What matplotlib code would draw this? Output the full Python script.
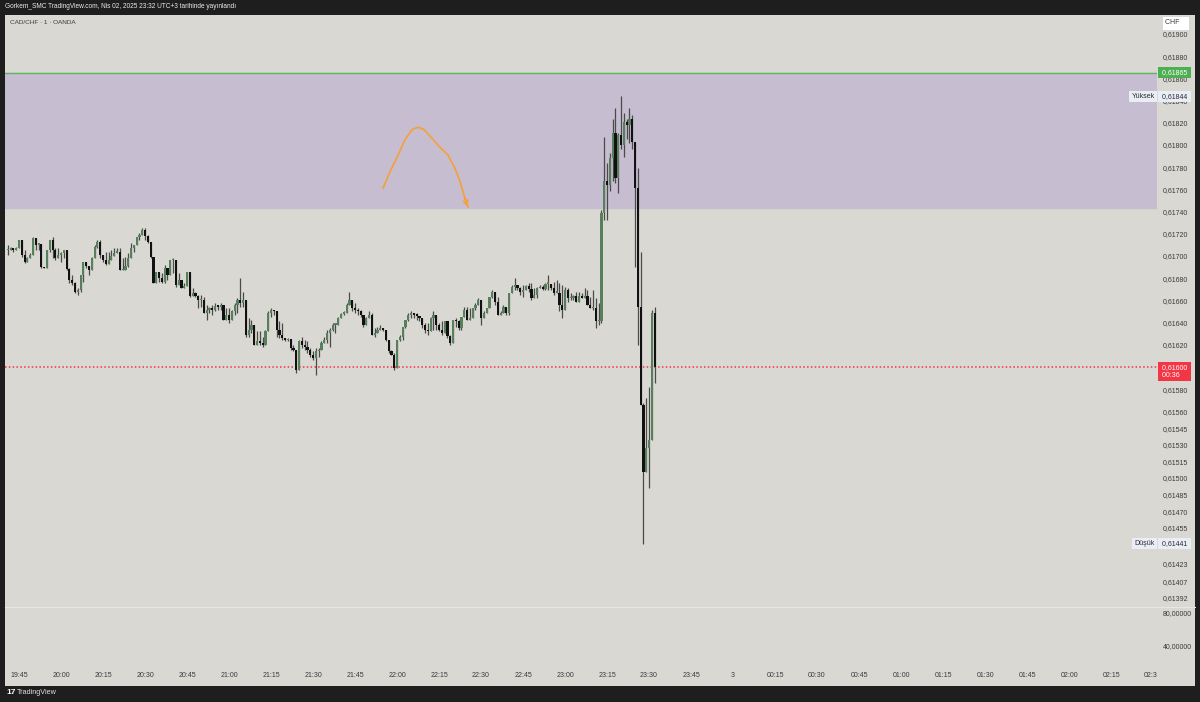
import matplotlib.pyplot as plt
from matplotlib.patches import Rectangle

plt.rcParams['font.family'] = ['Liberation Sans', 'DejaVu Sans']

# CAD/CHF 1 dakikalik mumlar, ilk mum 19:41 (dakika olarak 19:00'dan itibaren)
start_minute = 41
first_open = 0.61705

close = [
    0.61705, 0.61707, 0.61705, 0.61707, 0.61714, 0.61701, 0.61695, 0.61698, 0.61701, 0.61716,
    0.61710, 0.61711, 0.61690, 0.61689, 0.61705, 0.61714, 0.61705, 0.61698, 0.61701, 0.61703,
    0.61705, 0.61688, 0.61678, 0.61676, 0.61668, 0.61669, 0.61683, 0.61695, 0.61691, 0.61687,
    0.61698, 0.61708, 0.61713, 0.61701, 0.61696, 0.61693, 0.61696, 0.61700, 0.61703, 0.61704,
    0.61687, 0.61687, 0.61691, 0.61698, 0.61707, 0.61710, 0.61717, 0.61719, 0.61723, 0.61718,
    0.61713, 0.61699, 0.61676, 0.61686, 0.61680, 0.61677, 0.61689, 0.61683, 0.61696, 0.61696,
    0.61674, 0.61678, 0.61671, 0.61673, 0.61686, 0.61664, 0.61667, 0.61664, 0.61660, 0.61660,
    0.61649, 0.61651, 0.61653, 0.61651, 0.61655, 0.61654, 0.61656, 0.61642, 0.61647, 0.61642,
    0.61650, 0.61656, 0.61660, 0.61658, 0.61660, 0.61629, 0.61633, 0.61638, 0.61620, 0.61623,
    0.61622, 0.61620, 0.61632, 0.61649, 0.61651, 0.61650, 0.61633, 0.61629, 0.61626, 0.61624,
    0.61625, 0.61617, 0.61615, 0.61597, 0.61623, 0.61620, 0.61618, 0.61615, 0.61611, 0.61608,
    0.61614, 0.61615, 0.61622, 0.61624, 0.61631, 0.61633, 0.61638, 0.61638, 0.61644, 0.61648,
    0.61649, 0.61656, 0.61660, 0.61653, 0.61651, 0.61650, 0.61647, 0.61638, 0.61644, 0.61647,
    0.61629, 0.61631, 0.61633, 0.61635, 0.61633, 0.61624, 0.61614, 0.61611, 0.61599, 0.61624,
    0.61627, 0.61636, 0.61642, 0.61647, 0.61649, 0.61647, 0.61646, 0.61644, 0.61638, 0.61633,
    0.61632, 0.61644, 0.61647, 0.61638, 0.61633, 0.61631, 0.61641, 0.61628, 0.61622, 0.61642,
    0.61641, 0.61635, 0.61645, 0.61651, 0.61642, 0.61644, 0.61653, 0.61656, 0.61660, 0.61644,
    0.61649, 0.61653, 0.61663, 0.61668, 0.61659, 0.61647, 0.61649, 0.61654, 0.61649, 0.61667,
    0.61672, 0.61674, 0.61671, 0.61668, 0.61669, 0.61673, 0.61670, 0.61662, 0.61665, 0.61671,
    0.61672, 0.61670, 0.61675, 0.61675, 0.61671, 0.61667, 0.61667, 0.61656, 0.61651, 0.61669,
    0.61662, 0.61662, 0.61664, 0.61659, 0.61664, 0.61662, 0.61664, 0.61656, 0.61653, 0.61653,
    0.61641, 0.61641, 0.61739, 0.61768, 0.61764, 0.61788, 0.61811, 0.61770, 0.61809, 0.61800,
    0.61821, 0.61818, 0.61823, 0.61803, 0.61761, 0.61654, 0.61566, 0.61505, 0.61527, 0.61534,
    0.61649, 0.61600,
]

high = [
    0.61710, 0.61708, 0.61707, 0.61708, 0.61714, 0.61710, 0.61705, 0.61699, 0.61703, 0.61717,
    0.61712, 0.61712, 0.61705, 0.61690, 0.61705, 0.61714, 0.61717, 0.61707, 0.61707, 0.61704,
    0.61705, 0.61701, 0.61689, 0.61683, 0.61677, 0.61671, 0.61683, 0.61695, 0.61694, 0.61689,
    0.61699, 0.61710, 0.61714, 0.61714, 0.61701, 0.61704, 0.61704, 0.61705, 0.61707, 0.61707,
    0.61707, 0.61698, 0.61699, 0.61703, 0.61712, 0.61710, 0.61717, 0.61721, 0.61725, 0.61725,
    0.61719, 0.61712, 0.61698, 0.61686, 0.61685, 0.61685, 0.61692, 0.61686, 0.61696, 0.61698,
    0.61689, 0.61685, 0.61677, 0.61676, 0.61686, 0.61677, 0.61671, 0.61668, 0.61665, 0.61665,
    0.61663, 0.61656, 0.61654, 0.61656, 0.61658, 0.61656, 0.61658, 0.61654, 0.61653, 0.61653,
    0.61651, 0.61658, 0.61662, 0.61680, 0.61668, 0.61653, 0.61644, 0.61642, 0.61638, 0.61632,
    0.61632, 0.61627, 0.61633, 0.61650, 0.61653, 0.61651, 0.61647, 0.61641, 0.61640, 0.61624,
    0.61626, 0.61624, 0.61620, 0.61611, 0.61624, 0.61627, 0.61624, 0.61623, 0.61617, 0.61614,
    0.61617, 0.61617, 0.61623, 0.61627, 0.61633, 0.61635, 0.61640, 0.61640, 0.61645, 0.61649,
    0.61650, 0.61658, 0.61668, 0.61660, 0.61658, 0.61653, 0.61651, 0.61645, 0.61645, 0.61650,
    0.61649, 0.61635, 0.61636, 0.61638, 0.61635, 0.61633, 0.61620, 0.61615, 0.61613, 0.61624,
    0.61629, 0.61636, 0.61642, 0.61649, 0.61650, 0.61649, 0.61649, 0.61645, 0.61641, 0.61640,
    0.61640, 0.61645, 0.61650, 0.61647, 0.61640, 0.61641, 0.61641, 0.61635, 0.61629, 0.61642,
    0.61644, 0.61642, 0.61645, 0.61654, 0.61654, 0.61653, 0.61653, 0.61658, 0.61662, 0.61659,
    0.61650, 0.61653, 0.61663, 0.61669, 0.61665, 0.61663, 0.61650, 0.61656, 0.61654, 0.61667,
    0.61674, 0.61680, 0.61674, 0.61672, 0.61674, 0.61674, 0.61676, 0.61676, 0.61671, 0.61672,
    0.61674, 0.61674, 0.61676, 0.61683, 0.61674, 0.61677, 0.61678, 0.61676, 0.61674, 0.61672,
    0.61671, 0.61667, 0.61665, 0.61668, 0.61668, 0.61667, 0.61671, 0.61669, 0.61663, 0.61669,
    0.61662, 0.61658, 0.61741, 0.61807, 0.61784, 0.61793, 0.61823, 0.61833, 0.61811, 0.61844,
    0.61829, 0.61823, 0.61833, 0.61827, 0.61803, 0.61779, 0.61704, 0.61568, 0.61572, 0.61582,
    0.61651, 0.61654,
]

low = [
    0.61701, 0.61705, 0.61704, 0.61705, 0.61713, 0.61699, 0.61694, 0.61696, 0.61698, 0.61704,
    0.61705, 0.61705, 0.61689, 0.61689, 0.61689, 0.61704, 0.61698, 0.61696, 0.61699, 0.61695,
    0.61698, 0.61687, 0.61676, 0.61674, 0.61667, 0.61665, 0.61668, 0.61677, 0.61689, 0.61683,
    0.61689, 0.61698, 0.61707, 0.61698, 0.61695, 0.61692, 0.61695, 0.61698, 0.61701, 0.61703,
    0.61687, 0.61687, 0.61687, 0.61690, 0.61699, 0.61704, 0.61710, 0.61714, 0.61719, 0.61714,
    0.61712, 0.61698, 0.61676, 0.61676, 0.61677, 0.61676, 0.61676, 0.61678, 0.61683, 0.61685,
    0.61672, 0.61676, 0.61671, 0.61671, 0.61674, 0.61663, 0.61665, 0.61663, 0.61653, 0.61654,
    0.61649, 0.61642, 0.61649, 0.61647, 0.61650, 0.61651, 0.61651, 0.61642, 0.61642, 0.61640,
    0.61645, 0.61647, 0.61649, 0.61654, 0.61654, 0.61627, 0.61627, 0.61631, 0.61620, 0.61620,
    0.61620, 0.61618, 0.61623, 0.61635, 0.61645, 0.61647, 0.61627, 0.61626, 0.61624, 0.61623,
    0.61623, 0.61615, 0.61614, 0.61595, 0.61600, 0.61617, 0.61615, 0.61613, 0.61609, 0.61606,
    0.61593, 0.61609, 0.61615, 0.61623, 0.61622, 0.61618, 0.61632, 0.61631, 0.61641, 0.61645,
    0.61647, 0.61649, 0.61658, 0.61650, 0.61649, 0.61647, 0.61645, 0.61636, 0.61638, 0.61645,
    0.61629, 0.61627, 0.61632, 0.61633, 0.61632, 0.61623, 0.61613, 0.61611, 0.61597, 0.61599,
    0.61623, 0.61624, 0.61635, 0.61641, 0.61644, 0.61644, 0.61642, 0.61641, 0.61635, 0.61631,
    0.61629, 0.61632, 0.61633, 0.61633, 0.61632, 0.61629, 0.61633, 0.61626, 0.61620, 0.61623,
    0.61636, 0.61633, 0.61633, 0.61650, 0.61642, 0.61644, 0.61645, 0.61651, 0.61658, 0.61638,
    0.61647, 0.61650, 0.61658, 0.61662, 0.61656, 0.61647, 0.61647, 0.61650, 0.61647, 0.61647,
    0.61667, 0.61669, 0.61669, 0.61665, 0.61663, 0.61669, 0.61668, 0.61660, 0.61662, 0.61662,
    0.61671, 0.61669, 0.61669, 0.61669, 0.61669, 0.61665, 0.61667, 0.61650, 0.61644, 0.61659,
    0.61659, 0.61660, 0.61660, 0.61659, 0.61663, 0.61662, 0.61662, 0.61656, 0.61653, 0.61651,
    0.61635, 0.61638, 0.61640, 0.61732, 0.61732, 0.61759, 0.61768, 0.61766, 0.61757, 0.61796,
    0.61789, 0.61805, 0.61802, 0.61796, 0.61690, 0.61620, 0.61566, 0.61441, 0.61509, 0.61491,
    0.61539, 0.61586,
]

zone_top = 0.61865
zone_bottom = 0.61743
last_price = 0.61600
high_price = 0.61844
low_price = 0.61441

price_ticks = [0.61900, 0.61880, 0.61860, 0.61840, 0.61820, 0.61800, 0.61780, 0.61760,
               0.61740, 0.61720, 0.61700, 0.61680, 0.61660, 0.61640, 0.61620, 0.61580,
               0.61560, 0.61545, 0.61530, 0.61515, 0.61500, 0.61485, 0.61470, 0.61455,
               0.61423, 0.61407, 0.61392]

time_ticks = [45, 60, 75, 90, 105, 120, 135, 150, 165, 180, 195, 210, 225, 240, 255, 270,
              285, 300, 315, 330, 345, 360, 375, 390, 405, 420, 435, 450]
time_labels = ['19:45', '20:00', '20:15', '20:30', '20:45', '21:00', '21:15', '21:30',
               '21:45', '22:00', '22:15', '22:30', '22:45', '23:00', '23:15', '23:30',
               '23:45', '3', '00:15', '00:30', '00:45', '01:00', '01:15', '01:30',
               '01:45', '02:00', '02:15', '02:30']

# turuncu el cizimi ok (dakika, fiyat)
arrow_t = [175, 177.5, 180.4, 182.9, 185.4, 187.5, 189.6, 192.5, 195.3, 198.2, 200.7, 202.5, 203.9, 205.4]
arrow_p = [0.61761, 0.61776, 0.61791, 0.61805, 0.61814, 0.61816, 0.61814, 0.61806, 0.61798,
           0.61791, 0.61779, 0.61767, 0.61755, 0.61744]

bg = '#d9d8d3'
dark = '#1e1e1e'
W, H = 1200, 702

fig = plt.figure(figsize=(12, 7.02), dpi=100, facecolor=dark)
fig.patches.append(Rectangle((5 / W, 1 - 686 / H), 1190 / W, 671 / H, transform=fig.transFigure,
                             facecolor=bg, edgecolor='none', zorder=-5))

def frac(x0, y0, x1, y1):
    return [x0 / W, 1 - y1 / H, (x1 - x0) / W, (y1 - y0) / H]

ax = fig.add_axes(frac(5, 15, 1157, 607))
ax_low = fig.add_axes(frac(5, 607, 1157, 660))
ax_time = fig.add_axes(frac(5, 660, 1157, 686))

xlim = (40, 451.4)
for a in (ax, ax_low, ax_time):
    a.set_facecolor(bg)
    a.set_xlim(*xlim)
    for s in a.spines.values():
        s.set_visible(False)
    a.tick_params(length=0)

# mumlar
t = [start_minute + i for i in range(len(close))]
opens = [first_open] + close[:-1]
hi = [max(h, o, c) for h, o, c in zip(high, opens, close)]
lo = [min(l, o, c) for l, o, c in zip(low, opens, close)]
up = [c >= o for o, c in zip(opens, close)]
body_col = ['#56805c' if u else '#111111' for u in up]
ax.vlines(t, lo, hi, color='#4a4a4a', lw=0.9, zorder=3)
heights = [max(abs(c - o), 0.000015) for o, c in zip(opens, close)]
bottoms = [min(o, c) for o, c in zip(opens, close)]
ax.bar(t, heights, bottom=bottoms, width=0.78, color=body_col, edgecolor='none', zorder=4)

ax.set_ylim(0.613838, 0.619171)
ax.axhspan(zone_bottom, zone_top, color='#c6bdd0', zorder=1)
ax.axhline(zone_top, color='#5cb85c', lw=1.0, zorder=2)
ax.axhline(last_price, color='#f23645', lw=1.1, ls=(0, (1, 1.5)), zorder=2)

ax.plot(arrow_t, arrow_p, color='#f5a038', lw=1.2, zorder=5, solid_capstyle='round')
ax.annotate('', xy=(arrow_t[-1], arrow_p[-1] - 0.00002), xytext=(arrow_t[-2], arrow_p[-2]),
            arrowprops=dict(arrowstyle='->', color='#f5a038', lw=1.2, mutation_scale=8), zorder=5)

ax.yaxis.tick_right()
ax.set_yticks(price_ticks)
ax.set_yticklabels([f'{p:.5f}'.replace('.', ',') for p in price_ticks])
ax.tick_params(axis='y', labelsize=5.0, labelcolor='#3a3a3a', pad=4)
ax.set_xticks([])

tr = ax.get_yaxis_transform()
lab = dict(transform=tr, fontsize=5.0, va='center', clip_on=False, zorder=10)
ax.text(1.0025, zone_top, ' 0,61865 ', color='white', ha='left',
        bbox=dict(boxstyle='square,pad=0.3', fc='#4caf50', ec='none'), **lab)
ax.text(1.0025, last_price - 0.00004, ' 0,61600 \n 00:36', color='white', ha='left', linespacing=1.1,
        bbox=dict(boxstyle='square,pad=0.3', fc='#f23645', ec='none'), **lab)
ax.text(1.0025, high_price, ' 0,61844 ', color='#2a2a2a', ha='left',
        bbox=dict(boxstyle='square,pad=0.3', fc='#e9eef6', ec='none'), **lab)
ax.text(0.998, high_price, 'Yüksek', color='#2a2a2a', ha='right',
        bbox=dict(boxstyle='square,pad=0.3', fc='#e9eef6', ec='none'), **lab)
ax.text(1.0025, low_price, ' 0,61441 ', color='#2a2a2a', ha='left',
        bbox=dict(boxstyle='square,pad=0.3', fc='#e9eef6', ec='none'), **lab)
ax.text(0.998, low_price, 'Düşük', color='#2a2a2a', ha='right',
        bbox=dict(boxstyle='square,pad=0.3', fc='#e9eef6', ec='none'), **lab)

# alt panel
ax_low.set_ylim(23, 87.3)
ax_low.yaxis.tick_right()
ax_low.set_yticks([80, 40])
ax_low.set_yticklabels(['80,00000', '40,00000'])
ax_low.tick_params(axis='y', labelsize=5.0, labelcolor='#3a3a3a', pad=4)
ax_low.set_xticks([])
fig.add_artist(plt.Line2D([5 / W, 1195 / W], [1 - 607 / H] * 2, color='#e8e7e3', lw=0.8))

# zaman ekseni
ax_time.set_ylim(0, 1)
ax_time.set_xticks([])
ax_time.set_yticks([])
for tt, tl in zip(time_ticks, time_labels):
    ax_time.text(tt, 0.4, tl, ha='center', va='center', fontsize=5.0, color='#3a3a3a', clip_on=True)

fig.text(5 / W, 1 - 7 / H, 'Gorkem_SMC TradingView.com, Nis 02, 2025 23:32 UTC+3 tarihinde yayınlandı',
         color='#ececec', fontsize=4.7, va='center', ha='left')
fig.text(10 / W, 1 - 22 / H, 'CAD/CHF · 1 · OANDA', color='#3a3a3a', fontsize=4.6, va='center', ha='left')
fig.text(1165 / W, 1 - 23 / H, 'CHF   ', color='#3a3a3a', fontsize=5.0, va='center', ha='left',
         bbox=dict(boxstyle='square,pad=0.5', fc='white', ec='#cfcfcf', lw=0.5))
fig.text(6 / W, 1 - 693 / H, '17', color='white', fontsize=6, fontweight='bold', va='center', ha='left')
fig.text(17 / W, 1 - 693 / H, 'TradingView', color='#e0e0e0', fontsize=5.2, va='center', ha='left')

fig.savefig('out.png', dpi=100, facecolor=dark)
